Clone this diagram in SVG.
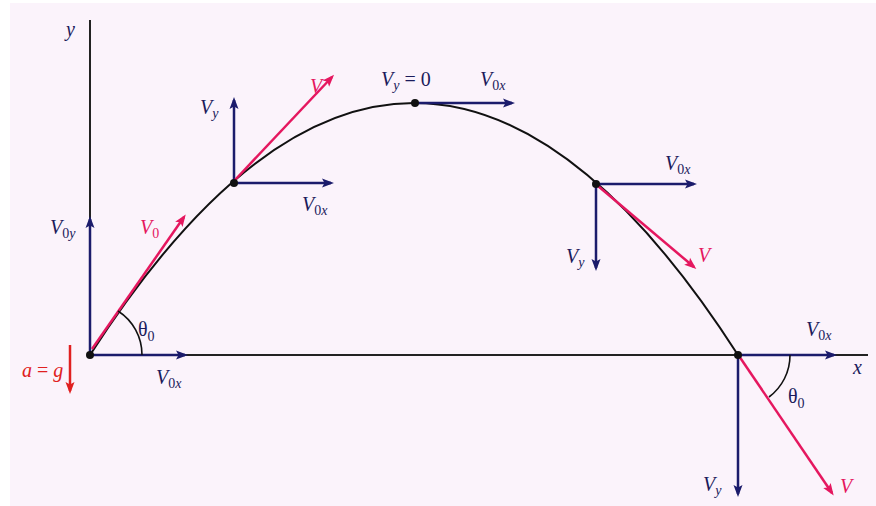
<svg xmlns="http://www.w3.org/2000/svg" width="876" height="506" viewBox="0 0 876 506">
<style>
.ax{stroke:#222;stroke-width:2;fill:none}
.bl{stroke:#1b1b6b;stroke-width:2.5;fill:none;marker-end:url(#hb)}
.rd{stroke:#e5175f;stroke-width:2.5;fill:none;marker-end:url(#hr)}
.arc{stroke:#111;stroke-width:1.6;fill:none}
.t{font-family:"Liberation Serif",serif;font-style:italic;font-size:20px;fill:#1b1b5b}
.s{font-size:14px;font-style:normal}
.si{font-size:14px;font-style:italic}
.n{font-style:normal}
.r{fill:#e5175f}
.g{fill:#e02020}
.dot{fill:#111}
</style>
<defs>
<marker id="hb" markerWidth="12" markerHeight="10" refX="9" refY="4.5" orient="auto" markerUnits="userSpaceOnUse" viewBox="0 0 12 9"><path d="M0,0 L12,4.5 L0,9 L2.5,4.5 Z" fill="#1b1b6b"/></marker>
<marker id="hr" markerWidth="12" markerHeight="10" refX="9" refY="4.5" orient="auto" markerUnits="userSpaceOnUse" viewBox="0 0 12 9"><path d="M0,0 L12,4.5 L0,9 L2.5,4.5 Z" fill="#e5175f"/></marker>
<marker id="hg" markerWidth="12" markerHeight="10" refX="9" refY="4.5" orient="auto" markerUnits="userSpaceOnUse" viewBox="0 0 12 9"><path d="M0,0 L12,4.5 L0,9 L2.5,4.5 Z" fill="#e02020"/></marker>
</defs>
<rect width="876" height="506" fill="#ffffff"/>
<rect x="10" y="3" width="866" height="503" fill="#fbf3fb"/>
<g id="axes">
<line class="ax" x1="90" y1="20" x2="90" y2="355"/>
<line class="ax" x1="90" y1="355" x2="868" y2="355"/>
<text class="t" x="66" y="36">y</text>
<text class="t" x="853" y="374">x</text>
</g>
<g id="trajectory">
<path d="M90,355 Q414,-149 738,355" stroke="#111" stroke-width="2" fill="none"/>
</g>
<g id="connectors">
<line class="bl" x1="90" y1="355" x2="90" y2="219"/>
<line class="bl" x1="90" y1="355" x2="185" y2="355"/>
<line class="rd" x1="92" y1="349" x2="184" y2="217"/>
<line class="bl" x1="234" y1="183" x2="234" y2="100"/>
<line class="bl" x1="234" y1="183" x2="331" y2="183"/>
<line class="rd" x1="234" y1="181" x2="332" y2="77"/>
<line class="bl" x1="415" y1="103" x2="512" y2="103"/>
<line class="bl" x1="596" y1="184" x2="694" y2="184"/>
<line class="bl" x1="596" y1="184" x2="596" y2="268"/>
<line class="rd" x1="598" y1="186" x2="694" y2="267"/>
<line class="bl" x1="738" y1="355" x2="834" y2="355"/>
<line class="bl" x1="738" y1="355" x2="738" y2="494"/>
<line class="rd" x1="739" y1="356" x2="832" y2="493"/>
<line stroke="#e02020" stroke-width="2.5" x1="70" y1="345" x2="70" y2="391" marker-end="url(#hg)"/>
<path class="arc" d="M142,355 A52,52 0 0 0 118,311"/>
<path class="arc" d="M790,355 A52,52 0 0 1 769,397"/>
</g>
<g id="dots">
<circle class="dot" cx="90" cy="355" r="4"/>
<circle class="dot" cx="234" cy="183" r="4"/>
<circle class="dot" cx="415" cy="103" r="4"/>
<circle class="dot" cx="596" cy="184" r="4"/>
<circle class="dot" cx="738" cy="355" r="4"/>
</g>
<g id="labels">
<text class="t" x="50" y="234">V<tspan class="s" dy="4">0</tspan><tspan class="si">y</tspan></text>
<text class="t r" x="140" y="234">V<tspan class="s" dy="4">0</tspan></text>
<text class="t n" x="138" y="336">θ<tspan class="s" dy="5">0</tspan></text>
<text class="t g" x="22" y="377">a <tspan class="n">=</tspan> g</text>
<text class="t" x="156" y="384">V<tspan class="s" dy="4">0</tspan><tspan class="si">x</tspan></text>
<text class="t" x="200" y="114">V<tspan class="si" dy="4">y</tspan></text>
<text class="t r" x="310" y="93">V</text>
<text class="t" x="302" y="211">V<tspan class="s" dy="4">0</tspan><tspan class="si">x</tspan></text>
<text class="t" x="381" y="86">V<tspan class="si" dy="4">y</tspan><tspan class="n" dy="-4"> = 0</tspan></text>
<text class="t" x="480" y="86">V<tspan class="s" dy="4">0</tspan><tspan class="si">x</tspan></text>
<text class="t" x="665" y="170">V<tspan class="s" dy="4">0</tspan><tspan class="si">x</tspan></text>
<text class="t" x="566" y="263">V<tspan class="si" dy="4">y</tspan></text>
<text class="t r" x="698" y="262">V</text>
<text class="t" x="806" y="336">V<tspan class="s" dy="4">0</tspan><tspan class="si">x</tspan></text>
<text class="t n" x="788" y="403">θ<tspan class="s" dy="5">0</tspan></text>
<text class="t" x="703" y="491">V<tspan class="si" dy="4">y</tspan></text>
<text class="t r" x="840" y="493">V</text>
</g>
</svg>
